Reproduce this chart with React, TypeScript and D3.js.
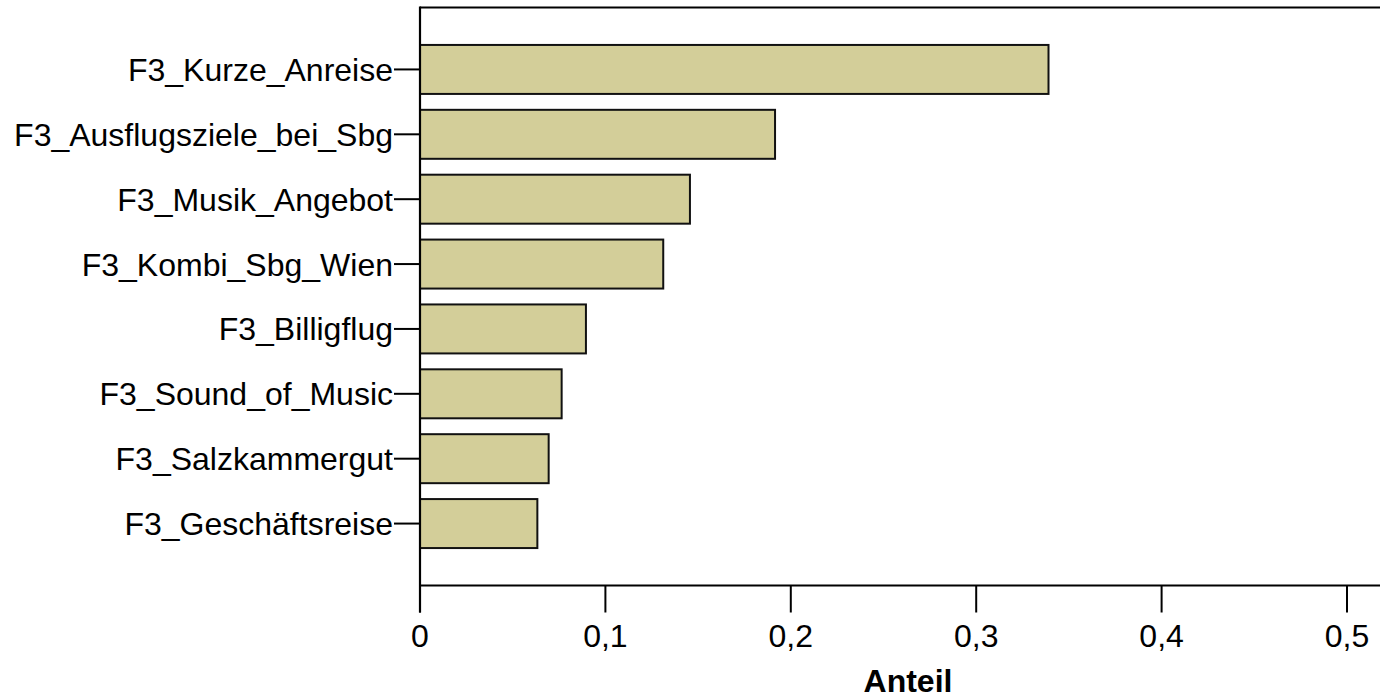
import React from "react";
import * as d3 from "d3";

const categories: string[] = [
  "F3_Kurze_Anreise",
  "F3_Ausflugsziele_bei_Sbg",
  "F3_Musik_Angebot",
  "F3_Kombi_Sbg_Wien",
  "F3_Billigflug",
  "F3_Sound_of_Music",
  "F3_Salzkammergut",
  "F3_Geschäftsreise",
];
const values: number[] = [0.339, 0.1915, 0.1456, 0.1312, 0.0895, 0.0764, 0.0694, 0.0633];
const xTicks: number[] = [0, 0.1, 0.2, 0.3, 0.4, 0.5];
const xTitle = "Anteil";

const W = 1380;
const H = 698;
const FONT = "'Liberation Sans', Arial, sans-serif";

export default function App() {
  const x0 = 420;
  const axisY = 585.5;
  const topY = 7.5;
  const x = d3.scaleLinear().domain([0, 0.5]).range([x0, 1347]);
  const y = d3
    .scaleBand<string>()
    .domain(categories)
    .range([37, 556])
    .paddingInner(0.245)
    .paddingOuter(0.1225);
  const fmt = (v: number) => (v === 0 ? "0" : d3.format(".1f")(v).replace(".", ","));

  return (
    <svg
      width={W}
      height={H}
      style={{ position: "absolute", left: 0, top: 0, background: "#fff" }}
      fontFamily={FONT}
    >
      <rect x={0} y={0} width={W} height={H} fill="#fff" />
      {/* bars */}
      {categories.map((c, i) => (
        <rect
          key={c}
          x={x(0)}
          y={y(c)!}
          width={x(values[i]) - x(0)}
          height={y.bandwidth()}
          fill="#d3ce99"
          stroke="#111"
          strokeWidth={2}
        />
      ))}
      {/* frame top */}
      <line x1={x0} x2={W} y1={topY} y2={topY} stroke="#000" strokeWidth={2.2} />
      {/* y axis */}
      <line x1={x0} x2={x0} y1={topY - 1} y2={axisY + 27} stroke="#000" strokeWidth={2.2} />
      {categories.map((c) => {
        const cy = y(c)! + y.bandwidth() / 2;
        return (
          <g key={c}>
            <line x1={394} x2={x0} y1={cy} y2={cy} stroke="#000" strokeWidth={2} />
            <text x={393} y={cy} dy="0.36em" textAnchor="end" fontSize={32} fill="#000">
              {c}
            </text>
          </g>
        );
      })}
      {/* x axis */}
      <line x1={x0} x2={W} y1={axisY} y2={axisY} stroke="#000" strokeWidth={2.2} />
      {xTicks.map((t) => (
        <g key={t}>
          <line x1={x(t)} x2={x(t)} y1={axisY} y2={axisY + 27} stroke="#000" strokeWidth={2} />
          <text x={x(t)} y={647} textAnchor="middle" fontSize={32} fill="#000">
            {fmt(t)}
          </text>
        </g>
      ))}
      <text x={908} y={692} textAnchor="middle" fontSize={32} fontWeight="bold" fill="#000">
        {xTitle}
      </text>
    </svg>
  );
}
